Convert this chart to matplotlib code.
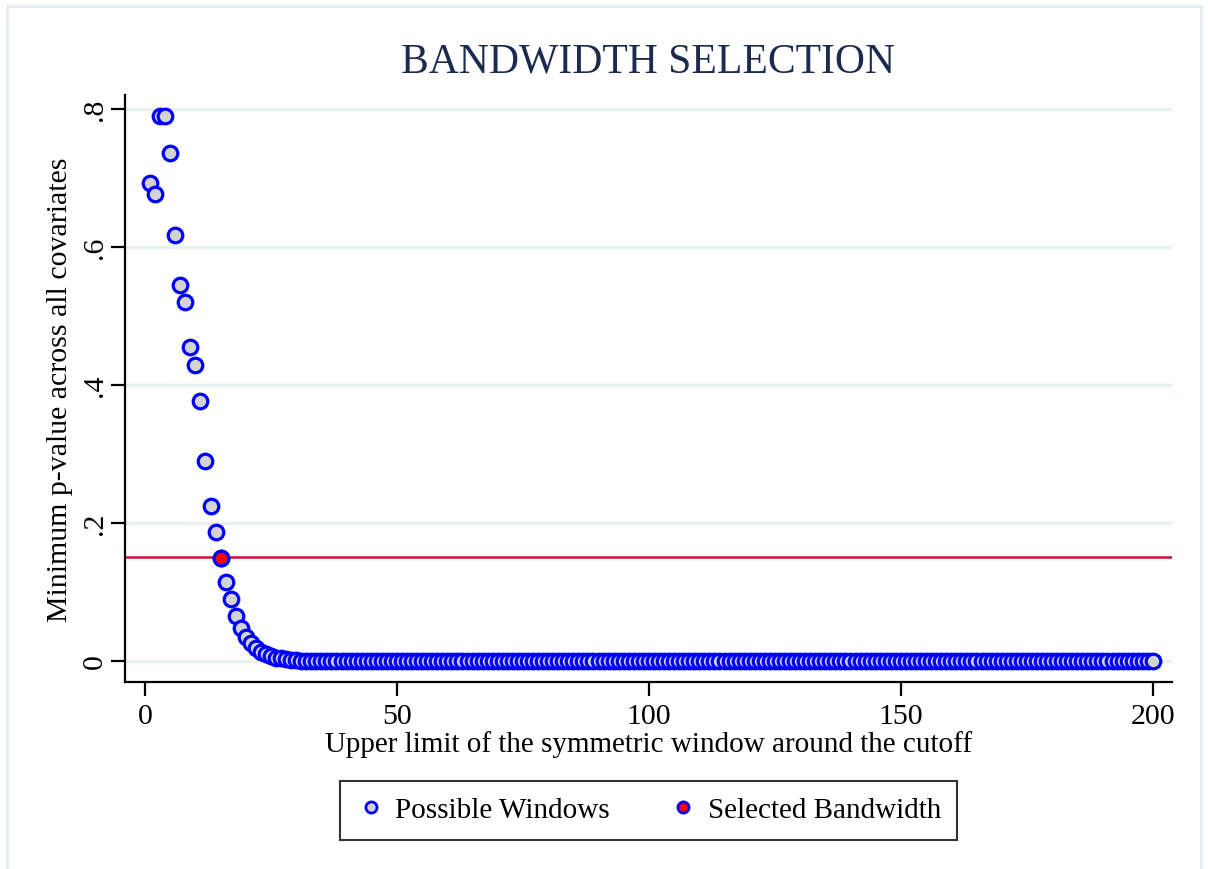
import matplotlib
matplotlib.use("Agg")
import matplotlib.pyplot as plt
from matplotlib.lines import Line2D
from matplotlib.patches import Rectangle

# Minimum p-value across covariates for each symmetric window (upper limit 1..200)
window_limits = list(range(1, 201))
pvals_first = [0.693, 0.677, 0.790, 0.790, 0.736, 0.617, 0.545, 0.520, 0.455, 0.429,
               0.377, 0.290, 0.225, 0.187, 0.149, 0.114, 0.090, 0.065, 0.048, 0.035,
               0.026, 0.019, 0.013, 0.010, 0.007, 0.005, 0.004, 0.003, 0.002, 0.001]
pvals_tail = [0.0] * 170  # windows 31-200 sit at zero
min_pvalues = pvals_first + pvals_tail

selected_window = 15
selected_pvalue = 0.149
threshold = 0.15

x_ticks = [0, 50, 100, 150, 200]
y_ticks = [0, 0.2, 0.4, 0.6, 0.8]
y_tick_labels = ["0", ".2", ".4", ".6", ".8"]

title = "BANDWIDTH SELECTION"
x_label = "Upper limit of the symmetric window around the cutoff"
y_label = "Minimum p-value across all covariates"
legend_labels = ["Possible Windows", "Selected Bandwidth"]

W, H = 1208, 870
FS = 21
plt.rcParams["font.family"] = ["Liberation Serif", "DejaVu Serif"]

fig = plt.figure(figsize=(W / 100, H / 100), dpi=100)
fig.patch.set_facecolor("white")

# light outer frame of the graph region
fig.patches.append(Rectangle((7 / W, -0.05), (1201 - 7) / W, 1.05 - 7 / H,
                             transform=fig.transFigure, facecolor="none",
                             edgecolor="#e6eef1", linewidth=2.0, zorder=0))

left, right = 125 / W, 1172 / W
bottom, top = 1 - 683 / H, 1 - 96 / H
ax = fig.add_axes([left, bottom, right - left, top - bottom])

ax.set_xlim(-3.97, 203.8)
ax.set_ylim(-0.0304, 0.82)

for yv in y_ticks:
    ax.axhline(yv, color="#e9f0f2", linewidth=2.5, zorder=0)

ax.axhline(threshold, color="#c8103e", linewidth=1.8, zorder=1)

ax.plot(window_limits, min_pvalues, linestyle="none", marker="o",
        markersize=10.5, markerfacecolor="#d3d3d3", markeredgecolor="#0000ff",
        markeredgewidth=2.3, zorder=2)
ax.plot([selected_window], [selected_pvalue], linestyle="none", marker="o",
        markersize=10.5, markerfacecolor="#ff0000", markeredgecolor="#0000ff",
        markeredgewidth=2.3, zorder=3)

for side in ("top", "right"):
    ax.spines[side].set_visible(False)
for side in ("left", "bottom"):
    ax.spines[side].set_linewidth(1.6)
    ax.spines[side].set_color("black")

ax.set_xticks(x_ticks)
ax.set_xticklabels([str(v) for v in x_ticks])
ax.set_yticks(y_ticks)
ax.set_yticklabels(y_tick_labels, rotation=90, va="center")
ax.tick_params(axis="both", direction="out", length=10, width=1.6,
               labelsize=21.5, color="black", labelcolor="black")
ax.tick_params(axis="x", pad=5)
ax.tick_params(axis="y", pad=2)

ax.set_xlabel(x_label, fontsize=FS, labelpad=1)
ax.set_ylabel(y_label, fontsize=21.5, labelpad=7)

fig.text(648 / W, 1 - 62 / H, title, ha="center", va="center",
         fontsize=30, color="#1c2a4e")

handles = [
    Line2D([], [], linestyle="none", marker="o", markersize=8,
           markerfacecolor="#d3d3d3", markeredgecolor="#0000ff", markeredgewidth=2.0),
    Line2D([], [], linestyle="none", marker="o", markersize=8,
           markerfacecolor="#ff0000", markeredgecolor="#0000ff", markeredgewidth=2.0),
]
leg = ax.legend(handles, legend_labels, loc="upper center",
                bbox_to_anchor=(0.5, -0.1687), ncol=2, fontsize=FS,
                frameon=True, fancybox=False, edgecolor="black",
                handletextpad=0.35, columnspacing=2.0, borderpad=0.55,
                handlelength=1.0, borderaxespad=0)
leg.get_frame().set_linewidth(1.5)

fig.savefig("out.png", dpi=100)
